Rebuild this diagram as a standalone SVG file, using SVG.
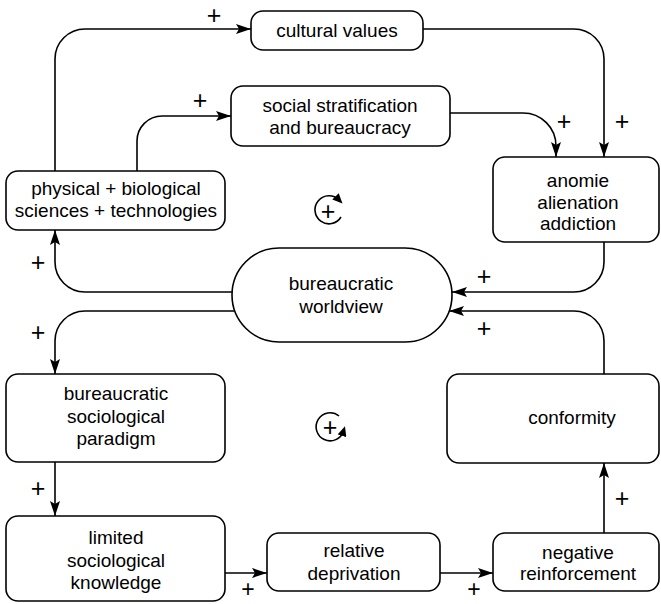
<svg xmlns="http://www.w3.org/2000/svg" width="661" height="604" viewBox="0 0 661 604">
<style>
.box{fill:#fff;stroke:#000;stroke-width:1.6}
.lbl{font-family:"Liberation Sans",Arial,sans-serif;font-size:19px;fill:#000;text-anchor:middle}
.pl{font-family:"Liberation Sans",Arial,sans-serif;font-size:25px;fill:#000;text-anchor:middle}
.c{fill:none;stroke:#000;stroke-width:1.6}
</style>
<defs>
<marker id="ah" markerUnits="userSpaceOnUse" markerWidth="16" markerHeight="10" refX="15" refY="5" orient="auto">
<path d="M0,0 L15,5 L0,10 L3,5 Z" fill="#000"/>
</marker>
<marker id="sh" markerUnits="userSpaceOnUse" markerWidth="11" markerHeight="9" refX="5" refY="4.5" orient="auto">
<path d="M0,0 L10,4.5 L0,9 Z" fill="#000"/>
</marker>
</defs>
<rect width="661" height="604" fill="#fff"/>
<g id="connectors">
<path class="c" d="M55,171 V59 A30,30 0 0 1 85,29 H251" marker-end="url(#ah)"/>
<path class="c" d="M137,171 V141 A25,25 0 0 1 162,116 H231" marker-end="url(#ah)"/>
<path class="c" d="M423,29 H574 A30,30 0 0 1 604,59 V157" marker-end="url(#ah)"/>
<path class="c" d="M450,113 H523 A33,33 0 0 1 556,146 V157" marker-end="url(#ah)"/>
<path class="c" d="M604,242 V262 A30,30 0 0 1 574,292 H452" marker-end="url(#ah)"/>
<path class="c" d="M604,374 V341 A30,30 0 0 0 574,311 H449" marker-end="url(#ah)"/>
<path class="c" d="M232,292 H85 A30,30 0 0 1 55,262 V230" marker-end="url(#ah)"/>
<path class="c" d="M235,311 H85 A30,30 0 0 0 55,341 V374" marker-end="url(#ah)"/>
<path class="c" d="M55,462 V516" marker-end="url(#ah)"/>
<path class="c" d="M225,573 H267" marker-end="url(#ah)"/>
<path class="c" d="M440,573 H493" marker-end="url(#ah)"/>
<path class="c" d="M604,533 V463" marker-end="url(#ah)"/>
</g>
<g id="signs">
<text class="pl" x="214" y="24">+</text>
<text class="pl" x="200" y="109">+</text>
<text class="pl" x="564" y="130">+</text>
<text class="pl" x="622" y="130">+</text>
<text class="pl" x="38" y="271">+</text>
<text class="pl" x="484" y="285">+</text>
<text class="pl" x="38" y="341">+</text>
<text class="pl" x="484" y="337">+</text>
<text class="pl" x="38" y="497">+</text>
<text class="pl" x="248" y="597" style="font-size:23px">+</text>
<text class="pl" x="474" y="597" style="font-size:23px">+</text>
<text class="pl" x="622" y="507">+</text>
</g>
<g id="loop1">
<path class="c" d="M341,217 A14,14 0 1 1 339,200" marker-end="url(#sh)"/>
<text class="pl" x="328" y="220">+</text>
</g>
<g id="loop2">
<path class="c" d="M339,416 A14,14 0 1 0 343.5,431" marker-end="url(#sh)"/>
<text class="pl" x="330" y="436">+</text>
</g>
<g id="cultural">
<rect class="box" x="251" y="11" width="172" height="39" rx="12"/>
<text class="lbl" x="337" y="37">cultural values</text>
</g>
<g id="social">
<rect class="box" x="231" y="86" width="219" height="60" rx="12"/>
<text class="lbl" x="340" y="112">social stratification</text>
<text class="lbl" x="340" y="134">and bureaucracy</text>
</g>
<g id="physical">
<rect class="box" x="6" y="171" width="219" height="59" rx="12"/>
<text class="lbl" x="116" y="195">physical + biological</text>
<text class="lbl" x="116" y="217">sciences + technologies</text>
</g>
<g id="anomie">
<rect class="box" x="493" y="157" width="166" height="85" rx="12"/>
<text class="lbl" x="578" y="187">anomie</text>
<text class="lbl" x="578" y="209">alienation</text>
<text class="lbl" x="578" y="230">addiction</text>
</g>
<g id="worldview">
<rect class="box" x="232" y="248" width="220" height="94" rx="47"/>
<text class="lbl" x="341" y="290">bureaucratic</text>
<text class="lbl" x="341" y="313">worldview</text>
</g>
<g id="paradigm">
<rect class="box" x="6" y="374" width="219" height="88" rx="12"/>
<text class="lbl" x="116" y="400">bureaucratic</text>
<text class="lbl" x="116" y="423">sociological</text>
<text class="lbl" x="116" y="445">paradigm</text>
</g>
<g id="conformity">
<rect class="box" x="447" y="374" width="212" height="89" rx="12"/>
<text class="lbl" x="572" y="424">conformity</text>
</g>
<g id="limited">
<rect class="box" x="6" y="516" width="219" height="85" rx="12"/>
<text class="lbl" x="116" y="544">limited</text>
<text class="lbl" x="116" y="567">sociological</text>
<text class="lbl" x="116" y="589">knowledge</text>
</g>
<g id="relative">
<rect class="box" x="267" y="533" width="173" height="58" rx="12"/>
<text class="lbl" x="354" y="557">relative</text>
<text class="lbl" x="354" y="580">deprivation</text>
</g>
<g id="negative">
<rect class="box" x="493" y="533" width="166" height="58" rx="12"/>
<text class="lbl" x="578" y="559">negative</text>
<text class="lbl" x="578" y="580">reinforcement</text>
</g>
</svg>
